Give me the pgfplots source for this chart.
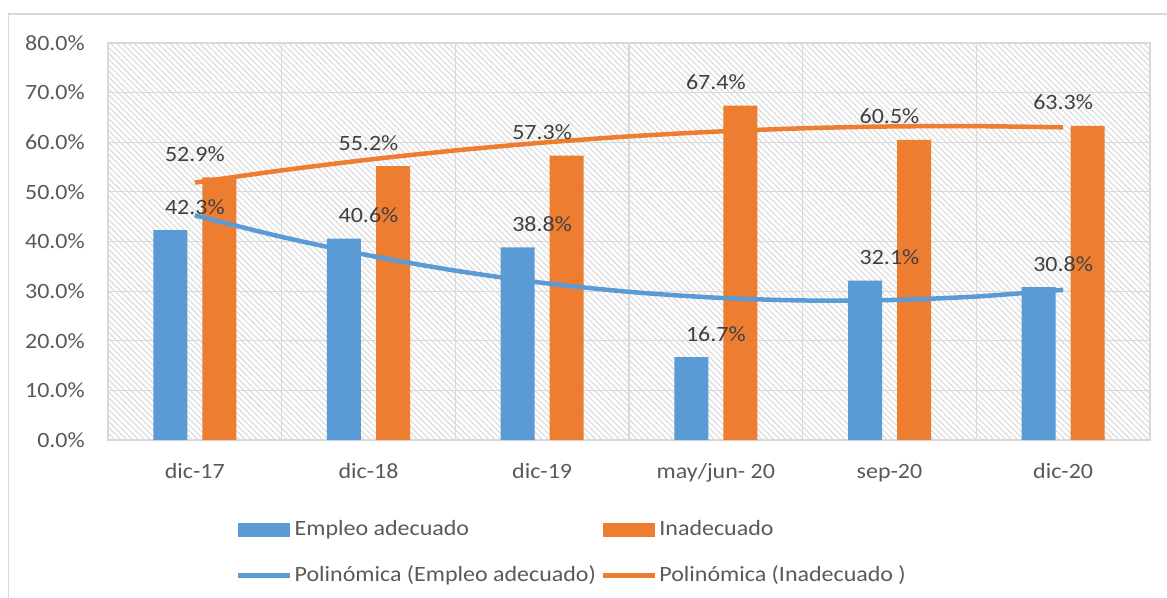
\documentclass[border=0pt]{standalone}
\usepackage{pgfplots}
\pgfplotsset{compat=1.18}
\usepackage{fontspec}
\setmainfont{Carlito}[FakeStretch=1.1]
\usetikzlibrary{patterns.meta}
\definecolor{cblue}{HTML}{5B9BD5}
\definecolor{corange}{HTML}{ED7D31}
\definecolor{ctext}{HTML}{595959}
\definecolor{clabel}{HTML}{404040}
\definecolor{cgrid}{HTML}{D9D9D9}
\begin{document}
\fontsize{21.8bp}{25bp}\selectfont
\begin{tikzpicture}
\useasboundingbox (-108bp,-158bp) rectangle (1059bp,440bp);
\draw[cgrid, line width=1.3bp] (-99.5bp,-170bp) -- (-99.5bp,426bp) -- (1080bp,426bp);
\begin{axis}[
  scale only axis, width=1042bp, height=397bp,
  xmin=-0.5, xmax=5.5, ymin=0, ymax=80,
  xtick={0,1,2,3,4,5},
  xticklabels={dic-17,dic-18,dic-19,may/jun- 20,sep-20,dic-20},
  minor xtick={-0.5,0.5,1.5,2.5,3.5,4.5,5.5},
  xminorgrids=true, ymajorgrids=true,
  ytick={0,10,...,80},
  major tick length=0pt, minor tick length=0pt,
  grid style={cgrid, line width=1.1bp},
  minor grid style={cgrid, line width=1.1bp},
  axis line style={cgrid, line width=1.1bp},
  axis background/.style={pattern={Lines[angle=-45,distance=4.2bp,line width=1.3bp]}, pattern color=black!13},
  /pgf/number format/assume math mode=true,
  yticklabel={\pgfmathprintnumber[fixed,fixed zerofill,precision=1]{\tick}\%},
  yticklabel style={anchor=east, inner sep=0pt, xshift=-23bp, text=ctext},
  xticklabel style={anchor=base, inner sep=0pt, yshift=-38bp, text=ctext},
  legend columns=2,
  legend cell align=left,
  legend style={draw=none, fill=none, at={(0.1228,-0.197)}, anchor=north west,
    inner sep=0pt, text=ctext, row sep=23bp,
    /tikz/every even column/.append style={column sep=3bp}},
  nodes near coords={\pgfmathprintnumber[fixed,fixed zerofill,precision=1]{\pgfplotspointmeta}\%},
  every node near coord/.style={anchor=base, inner sep=0pt, yshift=16bp, text=clabel, font=\fontsize{21.8bp}{25bp}\selectfont},
]
\addplot[ybar, bar width=34bp, bar shift=-24.5bp, fill=cblue, draw=none,
  area legend, legend image code/.code={\fill[cblue] (0bp,-7bp) rectangle (52bp,7bp);}]
  coordinates {(0,42.3) (1,40.6) (2,38.8) (3,16.7) (4,32.1) (5,30.8)};
\addlegendentry{Empleo adecuado}
\addplot[ybar, bar width=34bp, bar shift=24.5bp, fill=corange, draw=none,
  area legend, legend image code/.code={\fill[corange] (0bp,-7bp) rectangle (52bp,7bp);}]
  coordinates {(0,52.9) (1,55.2) (2,57.3) (3,67.4) (4,60.5) (5,63.3)};
\addlegendentry{Inadecuado}
\addplot[draw=cblue, line width=4.5bp, smooth, no marks, nodes near coords={},
  legend image code/.code={\draw[cblue, line width=4.5bp] (0bp,0bp) -- (52bp,0bp);}]
  coordinates {(0,45.27) (0.5,40.93) (1,37.21) (1.5,34.13) (2,31.68) (2.5,29.86) (3,28.68) (3.5,28.12) (4,28.20) (4.5,28.91) (5,30.26)};
\addlegendentry{Polinómica (Empleo adecuado)}
\addplot[draw=corange, line width=4.5bp, smooth, no marks, nodes near coords={},
  legend image code/.code={\draw[corange, line width=4.5bp] (0bp,0bp) -- (52bp,0bp);}]
  coordinates {(0,51.87) (0.5,54.33) (1,56.49) (1.5,58.35) (2,59.91) (2.5,61.18) (3,62.14) (3.5,62.81) (4,63.18) (4.5,63.24) (5,63.01)};
\addlegendentry{Polinómica (Inadecuado )}
\end{axis}
\end{tikzpicture}
\end{document}
